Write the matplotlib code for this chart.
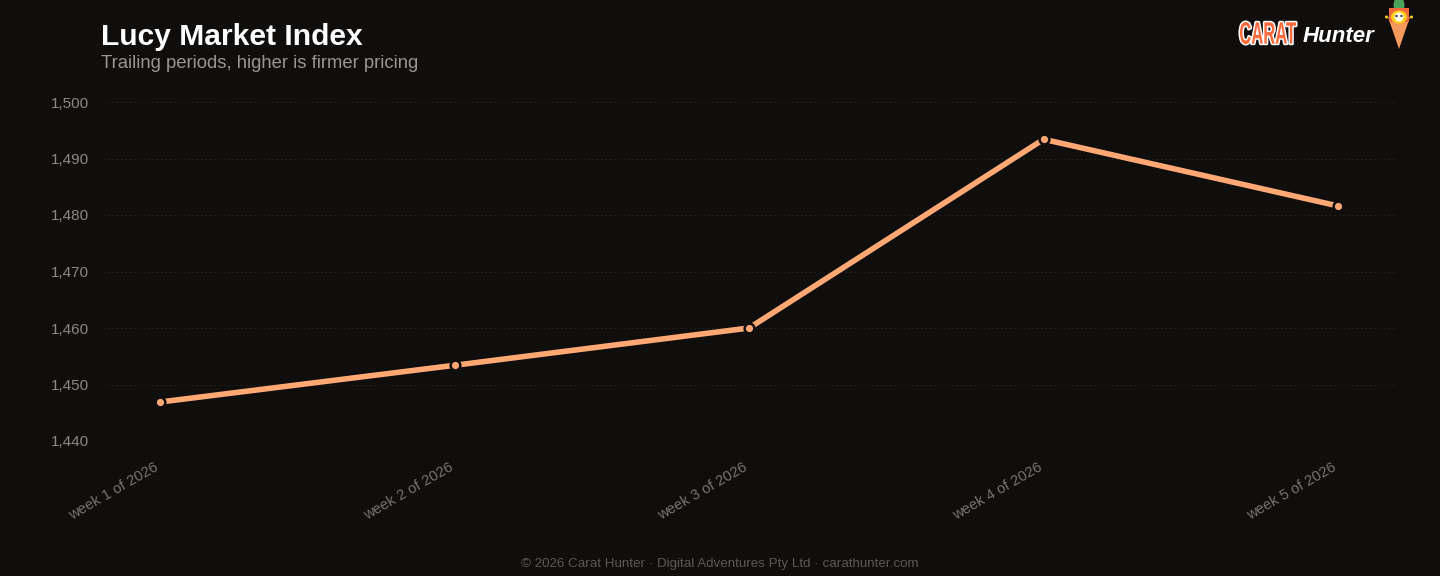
import matplotlib
matplotlib.use("Agg")
import matplotlib.pyplot as plt
from matplotlib.patches import Polygon, Ellipse, PathPatch
from matplotlib.textpath import TextPath
from matplotlib.font_manager import FontProperties
from matplotlib.transforms import Affine2D, ScaledTranslation
from matplotlib.ticker import FuncFormatter

weeks = ["week 1 of 2026", "week 2 of 2026", "week 3 of 2026", "week 4 of 2026", "week 5 of 2026"]
index_values = [1446.9, 1453.4, 1460.0, 1493.4, 1481.6]
y_ticks = [1440, 1450, 1460, 1470, 1480, 1490, 1500]

BG = "#100e0d"
LINE = "#ffa873"
TICK = "#8c8781"
GRID = "#2c2926"

plt.rcParams['font.family'] = ['Liberation Sans', 'DejaVu Sans']

W, H = 1440, 576
fig = plt.figure(figsize=(W / 100, H / 100), dpi=100, facecolor=BG)
ax = fig.add_axes([103 / W, 1 - 441 / H, (1397 - 103) / W, (441 - 102) / H])
ax.set_facecolor(BG)

x = list(range(len(weeks)))
ax.plot(x, index_values, color=LINE, lw=4, solid_capstyle='butt', zorder=3)
ax.plot(x, index_values, ls='none', marker='o', ms=7, mfc=LINE, mec=BG, mew=1.8, zorder=4)

ax.set_xlim(-0.194, 4.2)
ax.set_ylim(1440, 1500)
ax.set_yticks(y_ticks)
ax.yaxis.set_major_formatter(FuncFormatter(lambda v, p: f"{int(v):,}"))
ax.set_xticks(x)
ax.set_xticklabels(weeks, rotation=30, ha='right', rotation_mode='anchor')
ax.tick_params(axis='both', length=0, colors=TICK, labelsize=11)
ax.tick_params(axis='y', pad=10)
ax.tick_params(axis='x', pad=12, labelsize=10.6)
for s in ax.spines.values():
    s.set_visible(False)
ax.grid(axis='y', color=GRID, ls=(0, (1, 3)), lw=0.8)
ax.set_axisbelow(True)
offset = ScaledTranslation(-6 / 100, -2 / 100, fig.dpi_scale_trans)
for lbl in ax.get_xticklabels():
    lbl.set_color("#77726c")
    lbl.set_transform(lbl.get_transform() + offset)

fig.text(101 / W, 1 - 37 / H, "Lucy Market Index", color="#ffffff", fontsize=21.6,
         fontweight='bold', va='center', ha='left')
fig.text(101 / W, 1 - 63 / H, "Trailing periods, higher is firmer pricing", color="#9a958f",
         fontsize=13.3, va='center', ha='left')
fig.text(0.5, 1 - 564 / H, "© 2026 Carat Hunter · Digital Adventures Pty Ltd · carathunter.com",
         color="#5c5853", fontsize=9.6, ha='center', va='center')

# Logo: condensed "CARAT" built from a text path, squeezed horizontally
pix2fig = Affine2D().scale(1 / W, -1 / H).translate(0, 1) + fig.transFigure
tp = TextPath((0, 0), "CARAT", size=30, prop=FontProperties(family='Liberation Sans', weight='bold'))
bb = tp.get_extents()
sx = 56 / bb.width
sy = 22 / bb.height
carat_path = Affine2D().translate(-bb.x0, -bb.y0).scale(sx, -sy).translate(1240, 44).transform_path(tp)
fig.patches.append(PathPatch(carat_path, transform=pix2fig, facecolor="white",
                             edgecolor="white", lw=2.2, joinstyle='round'))
fig.patches.append(PathPatch(carat_path, transform=pix2fig, facecolor="#ff6a3d",
                             edgecolor="none"))
fig.text(1303 / W, 1 - 36 / H, "Hunter", color="#ffffff", fontsize=16, fontweight='bold',
         style='italic', ha='left', va='center')

def add_poly(pts, color):
    fig.patches.append(Polygon(pts, closed=True, transform=pix2fig, facecolor=color, edgecolor='none'))

def add_ell(cx, cy, w, h, color):
    fig.patches.append(Ellipse((cx, cy), w, h, transform=pix2fig, facecolor=color, edgecolor='none'))

add_ell(1399, 5, 11, 16, "#4aa35a")
add_poly([(1388, 17), (1410, 17), (1399, 49)], "#f59a5c")
add_poly([(1389, 8), (1409, 8), (1409, 22), (1389, 22)], "#f26a3a")
add_ell(1399, 17, 16, 13, "#ffd11a")
add_ell(1399, 17, 9, 9, "#ffffff")
add_ell(1396.5, 16, 2.2, 2.2, "#222222")
add_ell(1401.5, 16, 2.2, 2.2, "#222222")
add_ell(1386.5, 17, 3, 3, "#ffd11a")
add_ell(1411.5, 17, 3, 3, "#ffd11a")

fig.savefig("out.png", dpi=100, facecolor=BG)
